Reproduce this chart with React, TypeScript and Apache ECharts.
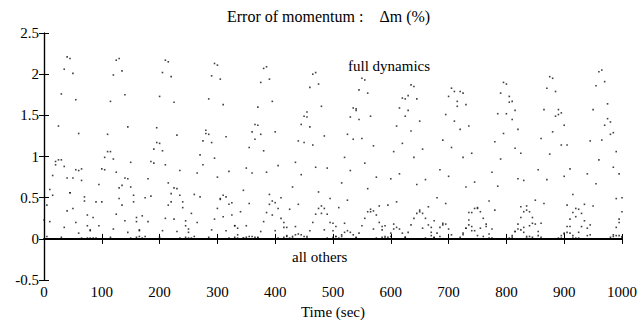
import React, { useEffect, useRef } from "react";
import * as echarts from "echarts";

// sample times (sec) shared by the three "full dynamics" dotted curves
const timeSec = [
  0, 5, 10, 15, 20, 25, 30, 35, 40, 45, 50, 55, 60, 65, 70, 75, 80, 85, 90, 95,
  100, 105, 110, 115, 120, 125, 130, 135, 140, 145, 150, 155, 160, 165, 170, 175, 180, 185, 190, 195,
  200, 205, 210, 215, 220, 225, 230, 235, 240, 245, 250, 255, 260, 265, 270, 275, 280, 285, 290, 295,
  300, 305, 310, 315, 320, 325, 330, 335, 340, 345, 350, 355, 360, 365, 370, 375, 380, 385, 390, 395,
  400, 405, 410, 415, 420, 425, 430, 435, 440, 445, 450, 455, 460, 465, 470, 475, 480, 485, 490, 495,
  500, 505, 510, 515, 520, 525, 530, 535, 540, 545, 550, 555, 560, 565, 570, 575, 580, 585, 590, 595,
  600, 605, 610, 615, 620, 625, 630, 635, 640, 645, 650, 655, 660, 665, 670, 675, 680, 685, 690, 695,
  700, 705, 710, 715, 720, 725, 730, 735, 740, 745, 750, 755, 760, 765, 770, 775, 780, 785, 790, 795,
  800, 805, 810, 815, 820, 825, 830, 835, 840, 845, 850, 855, 860, 865, 870, 875, 880, 885, 890, 895,
  900, 905, 910, 915, 920, 925, 930, 935, 940, 945, 950, 955, 960, 965, 970, 975, 980, 985, 990, 995,
  1000,
];

// main large oscillation (peaks ~2.2)
const fullMain = [
  0, 0.03, 0.21, 0.53, 0.94, 1.37, 1.76, 2.06, 2.21, 2.19, 2.01, 1.69, 1.28, 0.85, 0.46, 0.16, 0.01, 0, 0.01, 0.16,
  0.45, 0.84, 1.27, 1.67, 1.99, 2.17, 2.19, 2.04, 1.75, 1.36, 0.93, 0.53, 0.21, 0.03, 0, 0.03, 0.21, 0.52, 0.92, 1.35,
  1.73, 2.02, 2.17, 2.15, 1.97, 1.66, 1.26, 0.83, 0.45, 0.16, 0.01, 0, 0.03, 0.2, 0.51, 0.9, 1.32, 1.7, 1.98, 2.13,
  2.11, 1.94, 1.63, 1.24, 0.82, 0.44, 0.16, 0.01, 0, 0.01, 0.16, 0.43, 0.8, 1.21, 1.6, 1.9, 2.07, 2.09, 1.94, 1.67,
  1.3, 0.89, 0.5, 0.2, 0.03, 0, 0.01, 0.15, 0.42, 0.78, 1.17, 1.54, 1.84, 2.0, 2.02, 1.88, 1.61, 1.25, 0.86, 0.49,
  0.19, 0.03, 0, 0.03, 0.19, 0.47, 0.83, 1.21, 1.56, 1.81, 1.95, 1.93, 1.77, 1.49, 1.13, 0.75, 0.4, 0.15, 0.01, 0,
  0.03, 0.18, 0.45, 0.79, 1.16, 1.49, 1.74, 1.87, 1.85, 1.7, 1.43, 1.09, 0.72, 0.39, 0.14, 0.01, 0, 0.03, 0.17, 0.43,
  0.76, 1.11, 1.43, 1.67, 1.79, 1.77, 1.63, 1.37, 1.04, 0.69, 0.37, 0.13, 0.03, 0.18, 0.46, 0.81, 1.18, 1.52, 1.77, 1.9,
  1.88, 1.73, 1.45, 1.1, 0.73, 0.39, 0.14, 0.01, 0.03, 0.19, 0.47, 0.84, 1.22, 1.57, 1.83, 1.97, 1.95, 1.79, 1.51, 1.14,
  0.76, 0.41, 0.15, 0.01, 0, 0.01, 0.15, 0.42, 0.79, 1.19, 1.57, 1.86, 2.03, 2.05, 1.91, 1.64, 1.27, 0.87, 0.49, 0.2,
  0.03,
];

// secondary oscillation (peaks growing from ~1.0 to ~1.8, then decaying)
const fullSecond = [
  0.23, 0.41, 0.6, 0.77, 0.9, 0.96, 0.96, 0.88, 0.74, 0.56, 0.37, 0.2, 0.07, 0.01, 0, 0.01, 0.1, 0.26, 0.45, 0.66,
  0.85, 0.99, 1.06, 1.06, 0.97, 0.81, 0.62, 0.41, 0.22, 0.08, 0.01, 0, 0.02, 0.11, 0.28, 0.5, 0.73, 0.94, 1.09, 1.17,
  1.16, 1.07, 0.9, 0.68, 0.45, 0.24, 0.09, 0.01, 0, 0.02, 0.12, 0.31, 0.54, 0.8, 1.02, 1.19, 1.28, 1.27, 1.17, 0.98,
  0.75, 0.49, 0.27, 0.1, 0.01, 0, 0.02, 0.13, 0.33, 0.59, 0.86, 1.11, 1.3, 1.39, 1.38, 1.27, 1.07, 0.81, 0.54, 0.29,
  0.1, 0.01, 0, 0.02, 0.14, 0.36, 0.63, 0.93, 1.19, 1.39, 1.49, 1.48, 1.36, 1.14, 0.87, 0.57, 0.31, 0.11, 0.01, 0,
  0.02, 0.15, 0.38, 0.68, 0.99, 1.27, 1.48, 1.59, 1.58, 1.45, 1.22, 0.92, 0.61, 0.33, 0.12, 0.01, 0, 0.02, 0.16, 0.41,
  0.73, 1.06, 1.37, 1.59, 1.71, 1.7, 1.56, 1.31, 0.99, 0.66, 0.35, 0.13, 0.01, 0, 0.04, 0.22, 0.5, 0.84, 1.2, 1.51,
  1.73, 1.83, 1.79, 1.61, 1.33, 0.99, 0.63, 0.32, 0.1, 0, 0, 0, 0, 0, 0.01, 0.12, 0.35, 0.64, 0.97, 1.28,
  1.52, 1.66, 1.67, 1.56, 1.33, 1.04, 0.71, 0.4, 0.16, 0.02, 0, 0.04, 0.19, 0.43, 0.72, 1.03, 1.3, 1.49, 1.57, 1.53,
  1.38, 1.14, 0.85, 0.54, 0.27, 0.08, 0, 0, 0.04, 0.17, 0.4, 0.67, 0.96, 1.2, 1.38, 1.46, 1.42, 1.29, 1.06, 0.79,
  0.5,
];

// third, smaller oscillation (bumps ~0.85 decaying to ~0.35)
const fullThird = [
  0, 0, 0, 0, 0, 0, 0.02, 0.14, 0.34, 0.56, 0.74, 0.84, 0.83, 0.71, 0.51, 0.29, 0.11, 0.01, 0, 0,
  0, 0, 0, 0.02, 0.12, 0.3, 0.49, 0.65, 0.74, 0.73, 0.63, 0.45, 0.26, 0.1, 0.01, 0, 0, 0, 0, 0,
  0.02, 0.1, 0.25, 0.41, 0.55, 0.62, 0.61, 0.53, 0.38, 0.22, 0.08, 0.01, 0, 0, 0, 0, 0, 0.02, 0.11, 0.24,
  0.37, 0.48, 0.53, 0.51, 0.42, 0.29, 0.16, 0.05, 0, 0, 0, 0, 0, 0, 0.02, 0.09, 0.21, 0.32, 0.42, 0.46,
  0.44, 0.37, 0.25, 0.14, 0.04, 0, 0, 0, 0, 0, 0, 0.03, 0.1, 0.2, 0.3, 0.37, 0.4, 0.37, 0.3, 0.2,
  0.1, 0.03, 0, 0, 0, 0, 0, 0, 0.02, 0.07, 0.16, 0.25, 0.33, 0.36, 0.34, 0.29, 0.2, 0.11, 0.03, 0,
  0, 0, 0, 0, 0, 0.02, 0.08, 0.17, 0.25, 0.31, 0.33, 0.31, 0.25, 0.17, 0.08, 0.02, 0, 0, 0, 0,
  0, 0, 0, 0, 0, 0.05, 0.13, 0.23, 0.32, 0.37, 0.38, 0.33, 0.25, 0.15, 0.06, 0.01, 0, 0, 0, 0,
  0, 0, 0.02, 0.09, 0.18, 0.26, 0.33, 0.35, 0.33, 0.26, 0.18, 0.09, 0.02, 0, 0, 0, 0, 0, 0, 0.01,
  0.06, 0.15, 0.24, 0.32, 0.37, 0.36, 0.31, 0.22, 0.13, 0.05, 0, 0, 0, 0, 0, 0, 0, 0.05, 0.14, 0.24,
  0.33,
];

// small bumps just above zero
const lowBumpTime = [
  345, 350, 355, 360, 365, 370,
  425, 430, 435, 440, 445, 450, 455,
  510, 515, 520, 525, 530, 535, 540,
  595, 600, 605, 610, 615, 620, 625,
  675, 680, 685, 690, 695, 700, 705,
  720, 725, 730, 735, 740, 745, 750,
  805, 810, 815, 820, 825, 830, 835,
  890, 895, 900, 905, 910, 915, 920,
  980, 985, 990, 995, 1000,
];
const lowBumpValue = [
  0.01, 0.02, 0.03, 0.03, 0.02, 0.01,
  0.01, 0.03, 0.05, 0.06, 0.05, 0.03, 0.01,
  0.01, 0.05, 0.08, 0.1, 0.08, 0.05, 0.01,
  0.02, 0.07, 0.12, 0.14, 0.12, 0.07, 0.02,
  0.01, 0.07, 0.14, 0.19, 0.18, 0.12, 0.05,
  0.02, 0.07, 0.13, 0.17, 0.15, 0.1, 0.04,
  0.01, 0.04, 0.09, 0.12, 0.11, 0.08, 0.03,
  0.01, 0.04, 0.07, 0.08, 0.07, 0.04, 0.01,
  0.02, 0.03, 0.04, 0.04, 0.02,
];

// "all others" : flat line at zero
const othersTime = [0, 1000];
const othersValue = [0, 0];

const titleText = "Error of momentum :    \u0394m (%)";
const xAxisTitle = "Time (sec)";
const fullLabel = "full dynamics";
const othersLabel = "all others";

const FONT = "Times New Roman";

const pair = (xs: number[], ys: number[]) => xs.map((x, i) => [x, ys[i]]);

export default function App() {
  const ref = useRef<HTMLDivElement>(null);

  useEffect(() => {
    document.body.style.margin = "0";
    if (!ref.current) return;
    const chart = echarts.init(ref.current, undefined, { renderer: "svg" });

    const axisLine = { show: true, lineStyle: { color: "#000", width: 1.2 } };
    const tick = { show: true, inside: true, length: 5, lineStyle: { color: "#000", width: 1 } };

    const dotSeries = (name: string, data: number[][]) => ({
      name,
      type: "scatter",
      data,
      symbol: "rect",
      symbolSize: 1.6,
      itemStyle: { color: "#111" },
      silent: true,
      z: 3,
    });

    const txt = (x: number, y: number, text: string, size: number) => ({
      type: "text",
      x,
      y,
      style: {
        text,
        fontFamily: FONT,
        fontSize: size,
        fill: "#000",
        align: "left",
        verticalAlign: "middle",
      },
    });

    chart.setOption({
      animation: false,
      backgroundColor: "#fff",
      textStyle: { fontFamily: FONT },
      grid: { left: 44, right: 17, top: 33, bottom: 39, containLabel: false },
      xAxis: [
        {
          type: "value",
          min: 0,
          max: 1000,
          interval: 100,
          position: "bottom",
          name: xAxisTitle,
          nameLocation: "middle",
          nameGap: 20,
          nameTextStyle: { fontFamily: FONT, fontSize: 15, color: "#000" },
          axisLine,
          axisTick: tick,
          axisLabel: {
            fontFamily: FONT,
            fontSize: 15,
            color: "#000",
            margin: 4,
            formatter: (v: number) => String(v),
          },
          splitLine: { show: false },
        },
        {
          type: "value",
          min: 0,
          max: 1000,
          interval: 100,
          position: "top",
          axisLine,
          axisTick: tick,
          axisLabel: { show: false },
          splitLine: { show: false },
        },
      ],
      yAxis: [
        {
          type: "value",
          min: -0.5,
          max: 2.5,
          interval: 0.5,
          position: "left",
          axisLine,
          axisTick: tick,
          axisLabel: {
            fontFamily: FONT,
            fontSize: 15,
            color: "#000",
            margin: 5,
            formatter: (v: number) => String(v),
          },
          splitLine: { show: false },
        },
        {
          type: "value",
          min: -0.5,
          max: 2.5,
          interval: 0.5,
          position: "right",
          axisLine,
          axisTick: tick,
          axisLabel: { show: false },
          splitLine: { show: false },
        },
      ],
      series: [
        dotSeries("full dynamics (main)", pair(timeSec, fullMain)),
        dotSeries("full dynamics (second)", pair(timeSec, fullSecond)),
        dotSeries("full dynamics (third)", pair(timeSec, fullThird)),
        dotSeries("full dynamics (low)", pair(lowBumpTime, lowBumpValue)),
        {
          name: othersLabel,
          type: "line",
          data: pair(othersTime, othersValue),
          symbol: "none",
          lineStyle: { color: "#000", width: 1.6 },
          silent: true,
          z: 4,
        },
      ],
      graphic: [
        txt(227, 16, titleText, 16),
        txt(348, 66, fullLabel, 15),
        txt(292, 257, othersLabel, 15),
      ],
    });

    return () => chart.dispose();
  }, []);

  return <div ref={ref} style={{ width: 640, height: 324 }} />;
}
